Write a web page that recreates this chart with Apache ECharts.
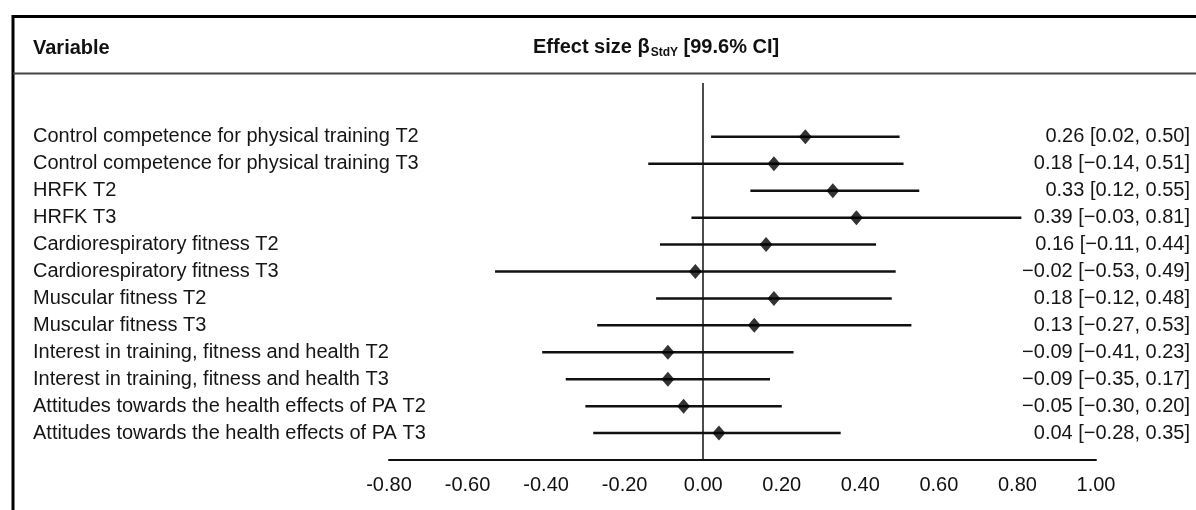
<!DOCTYPE html>
<html>
<head>
<meta charset="utf-8">
<script src="https://cdn.jsdelivr.net/npm/echarts@6/dist/echarts.min.js"></script>
<style>
 html, body { margin: 0; padding: 0; background: #fff; }
 #main { width: 1196px; height: 510px; }
</style>
</head>
<body>
<div id="main"></div>
<script>
var variables = [
 'Control competence for physical training T2',
 'Control competence for physical training T3',
 'HRFK T2',
 'HRFK T3',
 'Cardiorespiratory fitness T2',
 'Cardiorespiratory fitness T3',
 'Muscular fitness T2',
 'Muscular fitness T3',
 'Interest in training, fitness and health T2',
 'Interest in training, fitness and health T3',
 'Attitudes towards the health effects of PA T2',
 'Attitudes towards the health effects of PA T3'
];
var estimates = [0.26, 0.18, 0.33, 0.39, 0.16, -0.02, 0.18, 0.13, -0.09, -0.09, -0.05, 0.04];
var lower = [0.02, -0.14, 0.12, -0.03, -0.11, -0.53, -0.12, -0.27, -0.41, -0.35, -0.30, -0.28];
var upper = [0.50, 0.51, 0.55, 0.81, 0.44, 0.49, 0.48, 0.53, 0.23, 0.17, 0.20, 0.35];
var xTicks = [-0.8, -0.6, -0.4, -0.2, 0, 0.2, 0.4, 0.6, 0.8, 1.0];

var font = '"Liberation Sans", Arial, sans-serif';

function fmt(v) {
 // the right hand column uses a real minus sign
 return v.toFixed(2).replace('-', '\u2212');
}

var ciData = [];
var pointData = [];
var rightLabels = [];
for (var i = 0; i < variables.length; i++) {
 ciData.push([lower[i], upper[i], i]);
 pointData.push([estimates[i], i]);
 rightLabels.push(fmt(estimates[i]) + ' [' + fmt(lower[i]) + ', ' + fmt(upper[i]) + ']');
}

var chart = echarts.init(document.getElementById('main'), null, {renderer: 'canvas'});

var rowAxis = {
 type: 'value',
 min: -2,
 max: 12,
 interval: 1,
 inverse: true,
 axisLine: {show: false},
 axisTick: {show: false},
 splitLine: {show: false}
};

var option = {
 animation: false,
 backgroundColor: '#fff',
 grid: {left: 389, right: 100, top: 83, bottom: 50},
 xAxis: {
  type: 'value',
  min: xTicks[0],
  max: xTicks[xTicks.length - 1],
  interval: 0.2,
  axisLine: {onZero: false, lineStyle: {color: '#111', width: 2}},
  axisTick: {show: false},
  splitLine: {show: false},
  axisLabel: {
   margin: 15,
   fontSize: 20,
   fontFamily: font,
   color: '#111',
   formatter: function (v) { return v.toFixed(2); }
  }
 },
 yAxis: [
  Object.assign({}, rowAxis, {
   position: 'left',
   axisLabel: {
    align: 'left',
    margin: 356,
    fontSize: 20,
    fontFamily: font,
    color: '#151515',
    formatter: function (v) { return variables[v] || ''; }
   }
  }),
  Object.assign({}, rowAxis, {
   position: 'right',
   axisLabel: {
    align: 'right',
    margin: 94,
    fontSize: 20,
    fontFamily: font,
    color: '#151515',
    formatter: function (v) { return rightLabels[v] || ''; }
   }
  })
 ],
 series: [
  {
   type: 'custom',
   xAxisIndex: 0,
   yAxisIndex: 0,
   data: ciData,
   encode: {x: [0, 1], y: 2},
   renderItem: function (params, api) {
    var a = api.coord([api.value(0), api.value(2)]);
    var b = api.coord([api.value(1), api.value(2)]);
    return {
     type: 'line',
     shape: {x1: a[0], y1: a[1], x2: b[0], y2: b[1]},
     style: {stroke: '#111', lineWidth: 2.5}
    };
   },
   markLine: {
    silent: true,
    symbol: 'none',
    label: {show: false},
    lineStyle: {color: '#111', width: 1.5, type: 'solid'},
    data: [{xAxis: 0}]
   },
   z: 2
  },
  {
   type: 'scatter',
   xAxisIndex: 0,
   yAxisIndex: 0,
   data: pointData,
   symbol: 'diamond',
   symbolSize: [13, 15],
   itemStyle: {color: '#000'},
   z: 3
  }
 ],
 graphic: [
  // frame and header rule
  {type: 'line', shape: {x1: 12, y1: 16.5, x2: 1196, y2: 16.5}, style: {stroke: '#000', lineWidth: 3}},
  {type: 'line', shape: {x1: 13, y1: 15, x2: 13, y2: 510}, style: {stroke: '#000', lineWidth: 3}},
  {type: 'line', shape: {x1: 13, y1: 73.5, x2: 1196, y2: 73.5}, style: {stroke: '#444', lineWidth: 2}},
  {
   type: 'text', left: 33, top: 38,
   style: {text: 'Variable', font: 'bold 20px ' + font, fill: '#111'}
  },
  {
   type: 'text', left: 533, top: 35,
   style: {
    text: '{a|Effect size β}{s|StdY}{a| [99.6% CI]}',
    fill: '#111',
    rich: {
     a: {fontSize: 20, fontWeight: 'bold', fontFamily: font, lineHeight: 24, fill: '#111'},
     s: {fontSize: 12, fontWeight: 'bold', fontFamily: font, lineHeight: 12, verticalAlign: 'bottom', padding: [12, 0, 0, 1], fill: '#111'}
    }
   }
  }
 ]
};

chart.setOption(option);
</script>
</body>
</html>
